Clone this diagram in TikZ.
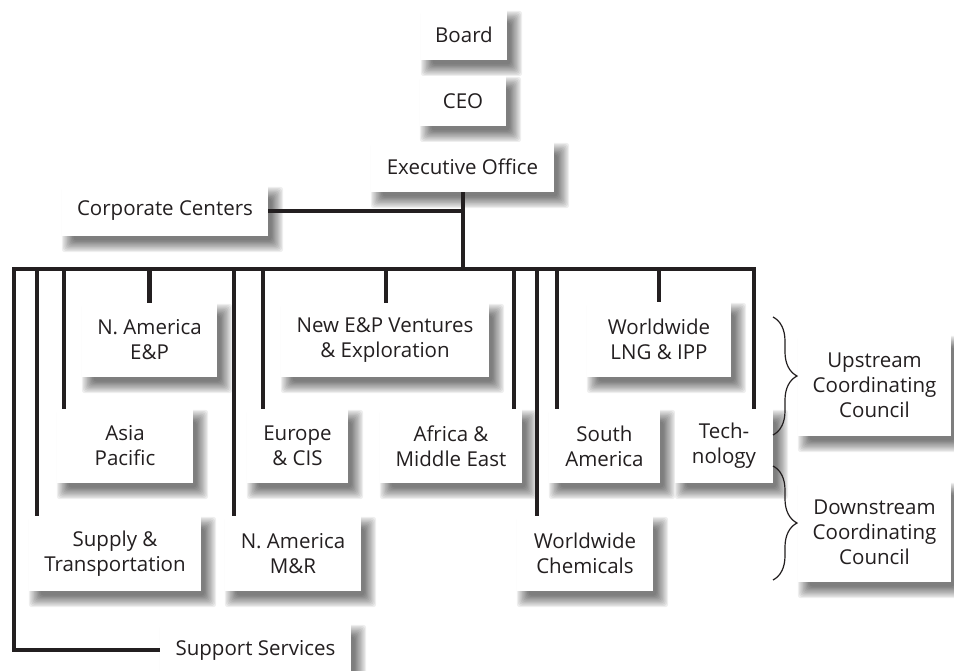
\documentclass[tikz,border=0pt]{standalone}
\usepackage{fontspec}
\setmainfont{Open Sans}
\usetikzlibrary{backgrounds,decorations.pathreplacing}
\definecolor{ink}{HTML}{231F20}
\tikzset{
  box/.style={draw=none, fill=white, inner sep=0pt, align=center, text=ink,
    font=\fontsize{20.5}{25}\selectfont},
  shadelayer/.style={fill=black, fill opacity=0.065, rounded corners=3pt},
  conn/.style={draw=ink, line width=4.5pt, line join=miter, line cap=butt},
  bracestyle/.style={draw=ink, line width=1.2pt, decorate, decoration={brace, amplitude=24pt}}
}
\newcommand\dropshade[1]{%
  \foreach \k in {0,...,9}{%
    \fill[shadelayer] ([shift={(0+1.3*\k, 1+1.3*\k)}]#1.north west) rectangle ([shift={(15-1.3*\k, 16-1.3*\k)}]#1.south east);
  }%
}
\begin{document}
\begin{tikzpicture}[x=1pt, y=-1pt]
\useasboundingbox (0,0) rectangle (954,671);
% boxes
\node[box, minimum width=86pt, minimum height=50pt] (board) at (464,35) {Board};
\node[box, minimum width=86pt, minimum height=50pt] (ceo) at (463,101) {CEO};
\node[box, minimum width=183pt, minimum height=50pt] (exec) at (462.5,167) {Executive Office};
\node[box, minimum width=206pt, minimum height=50pt] (corp) at (165,211) {Corporate Centers};
\node[box, minimum width=135pt, minimum height=74pt] (naep) at (149.5,340) {N. America\\E\&P};
\node[box, minimum width=208pt, minimum height=74pt] (newep) at (385,340) {New E\&P Ventures\\\& Exploration};
\node[box, minimum width=144pt, minimum height=75pt] (lng) at (659,339.5) {Worldwide\\LNG \& IPP};
\node[box, minimum width=136pt, minimum height=74pt] (asia) at (125,446) {Asia\\Pacific};
\node[box, minimum width=101pt, minimum height=74pt] (eur) at (297.5,446) {Europe\\\& CIS};
\node[box, minimum width=142pt, minimum height=74pt] (afr) at (451,446) {Africa \&\\Middle East};
\node[box, minimum width=111pt, minimum height=74pt] (sam) at (604.5,446) {South\\America};
\node[box, minimum width=98pt, minimum height=74pt] (tech) at (724,446) {Tech-\\nology};
\node[box, minimum width=172pt, minimum height=75pt] (supply) at (115,553.5) {Supply \&\\Transportation};
\node[box, minimum width=136pt, minimum height=75pt] (namr) at (293,553.5) {N. America\\M\&R};
\node[box, minimum width=136pt, minimum height=75pt] (chem) at (585,553.5) {Worldwide\\Chemicals};
\node[box, minimum width=191pt, minimum height=52pt] (support) at (255.5,650) {Support Services};
\node[box, minimum width=153pt, minimum height=101pt] (up) at (874.5,385.5) {Upstream\\Coordinating\\Council};
\node[box, minimum width=153pt, minimum height=100pt] (down) at (874.5,532) {Downstream\\Coordinating\\Council};
% shadows
\begin{pgfonlayer}{background}
\fill[white] (0,0) rectangle (954,671);
\foreach \n in {board,ceo,exec,corp,naep,newep,lng,asia,eur,afr,sam,tech,supply,namr,chem,support,up,down}{\dropshade{\n}}
\end{pgfonlayer}
% coordinates on the main bar
\coordinate (hub) at (463,269);
\coordinate (barL) at (14,269);
\coordinate (barR) at (754,269);
\coordinate (tSupply) at (37,269);
\coordinate (tAsia) at (64,269);
\coordinate (tNAEP) at (149.5,269);
\coordinate (tNAMR) at (234,269);
\coordinate (tEur) at (263,269);
\coordinate (tNew) at (386,269);
\coordinate (tAfr) at (514,269);
\coordinate (tChem) at (537,269);
\coordinate (tSAm) at (557,269);
\coordinate (tLNG) at (659,269);
% connectors
\draw[conn] (exec.south -| hub) -- (hub);
\draw[conn] (corp.east) -- ([xshift=2.25pt]corp.east -| hub);
\draw[conn] (support.west) -| (barL) -- (barR) -- (barR |- tech.north);
\foreach \t/\n in {tSupply/supply, tAsia/asia, tNAEP/naep, tNAMR/namr, tEur/eur, tNew/newep, tAfr/afr, tChem/chem, tSAm/sam, tLNG/lng}
  \draw[conn] (\t) -- (\t |- \n.north);
% braces
\coordinate (b1t) at (773,317);
\coordinate (b1b) at (773,435);
\coordinate (b2t) at (773,466);
\coordinate (b2b) at (773,580);
\draw[bracestyle] (b1t) -- (b1b);
\draw[bracestyle] (b2t) -- (b2b);
\end{tikzpicture}
\end{document}
